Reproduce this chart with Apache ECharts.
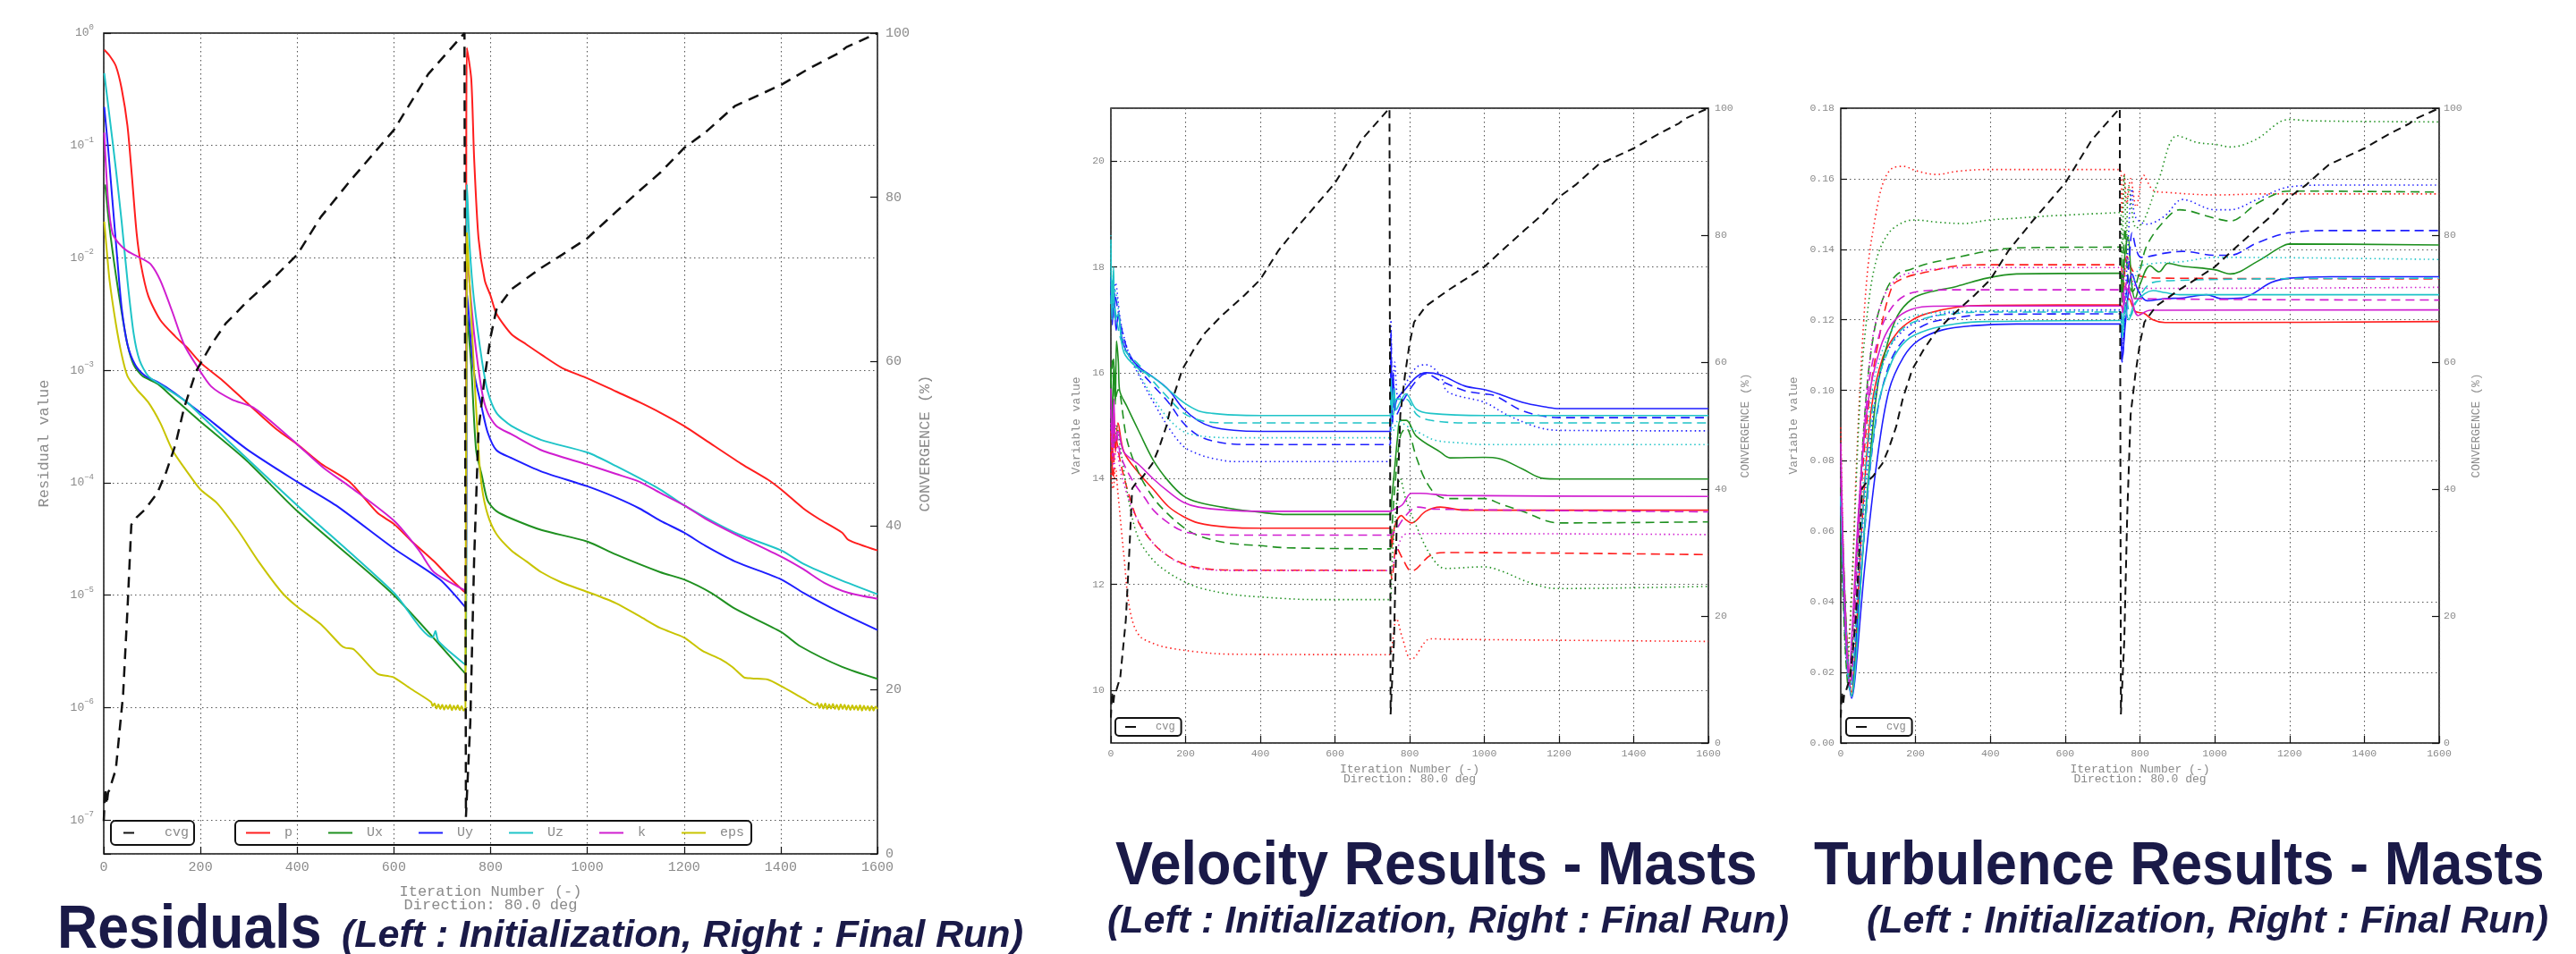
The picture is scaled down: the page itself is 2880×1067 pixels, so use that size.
<!DOCTYPE html>
<html>
<head>
<meta charset="utf-8">
<script src="https://cdn.jsdelivr.net/npm/echarts@6.0.0/dist/echarts.min.js"></script>
<style>
  html, body { margin: 0; padding: 0; background: #fff; }
  #main { width: 2880px; height: 1067px; }
</style>
</head>
<body>
<div id="main"></div>
<script>
// ---- shared: convergence (%) against iteration ----
const cvgData = [[0,4],[3,8],[6,6],[9,7.5],[12,7.8],[18,9],[25,10.3],[40,19.4],[49,29.7],[57,40.1],[68,41],[86,42],[111,44],[129,46.5],[148,49.8],[166,54.3],[191,58.8],[222,62],[252,64.6],[295,67.2],[357,70.5],[400,73],[449,77.6],[511,82.1],[600,88.2],[671,95],[746,100],[749,4.5],[752,4.5],[758,16],[766,36],[775,51.7],[788,58.2],[800,63],[812,66.3],[843,68.8],[905,71.4],[948,73],[1000,75],[1059,78.2],[1108,80.8],[1151,83],[1200,86],[1244,87.9],[1305,91.1],[1401,93.7],[1459,95.7],[1521,97.6],[1536,98.3],[1600,100]];

// ---- residuals ----
const pTarget = 5e-4;
const uTarget = 1e-5;
const resP = [[1,0.71],[12,0.63],[25,0.51],[37,0.32],[49,0.15],[58,0.055],[68,0.0166],[77,8.7e-3],[92,4.6e-3],[117,2.8e-3],[148,2.0e-3],[172,1.6e-3],[200,1.17e-3],[246,8.1e-4],[295,5.2e-4],[357,3.0e-4],[400,2.2e-4],[449,1.48e-4],[508,1.02e-4],[566,5.4e-5],[600,4.3e-5],[634,3.1e-5],[683,2.0e-5],[714,1.45e-5],[748,1.05e-5],[751,0.74],[760,0.39],[766,0.076],[775,0.015],[788,6.3e-3],[800,4.6e-3],[812,3.2e-3],[843,2.1e-3],[874,1.7e-3],[905,1.38e-3],[948,1.05e-3],[1000,8.5e-4],[1059,6.5e-4],[1108,5.2e-4],[1151,4.2e-4],[1200,3.2e-4],[1244,2.4e-4],[1318,1.48e-4],[1373,1.07e-4],[1401,8.7e-5],[1447,5.9e-5],[1478,4.8e-5],[1527,3.6e-5],[1540,3.1e-5],[1600,2.5e-5]];
const resUx = [[3,0.045],[12,0.0186],[25,7.1e-3],[37,3.3e-3],[49,1.7e-3],[62,1.12e-3],[80,8.9e-4],[111,7.6e-4],[142,5.8e-4],[200,3.5e-4],[295,1.58e-4],[400,5.6e-5],[600,1.0e-5],[748,2.0e-6],[751,3.2e-3],[760,1.1e-3],[770,1.95e-4],[782,1.15e-4],[794,6.9e-5],[812,5.6e-5],[843,4.8e-5],[905,3.8e-5],[1000,3.0e-5],[1059,2.3e-5],[1151,1.6e-5],[1200,1.38e-5],[1256,1.05e-5],[1305,7.6e-6],[1401,4.7e-6],[1441,3.5e-6],[1527,2.3e-6],[1600,1.8e-6]];
const resUy = [[1,0.22],[9,0.095],[18,0.032],[28,9.8e-3],[37,3.6e-3],[49,1.7e-3],[65,1.12e-3],[86,8.9e-4],[111,7.9e-4],[142,6.5e-4],[200,4.2e-4],[295,2.0e-4],[400,1.02e-4],[480,6.3e-5],[600,2.6e-5],[695,1.38e-5],[748,7.8e-6],[751,5.0e-3],[765,1.0e-3],[782,4.6e-4],[794,2.8e-4],[812,1.95e-4],[843,1.66e-4],[905,1.26e-4],[1000,9.3e-5],[1059,7.4e-5],[1108,5.9e-5],[1151,4.6e-5],[1200,3.6e-5],[1244,2.75e-5],[1305,2.0e-5],[1401,1.38e-5],[1447,1.05e-5],[1521,7.1e-6],[1600,4.9e-6]];
const resUz = [[1,0.44],[12,0.18],[25,0.062],[37,0.021],[49,6.3e-3],[62,2.1e-3],[74,1.23e-3],[92,8.9e-4],[123,7.2e-4],[172,5.2e-4],[200,4.0e-4],[295,1.66e-4],[400,6.3e-5],[600,1.05e-5],[680,4.2e-6],[686,4.8e-6],[692,3.9e-6],[748,2.4e-6],[751,0.045],[757,0.012],[766,4.1e-3],[782,1.23e-3],[794,6.5e-4],[812,4.2e-4],[843,3.2e-4],[905,2.4e-4],[1000,1.86e-4],[1059,1.41e-4],[1151,8.7e-5],[1200,6.3e-5],[1305,3.6e-5],[1401,2.5e-5],[1447,1.9e-5],[1521,1.38e-5],[1600,1.02e-5]];
const resK = [[1,0.13],[9,0.032],[18,0.0166],[31,0.0135],[49,0.0115],[80,9.8e-3],[98,8.7e-3],[117,6.3e-3],[142,3.3e-3],[166,1.7e-3],[191,1.12e-3],[222,7.2e-4],[265,5.5e-4],[308,4.7e-4],[357,3.2e-4],[400,2.2e-4],[455,1.35e-4],[511,9.1e-5],[600,4.6e-5],[652,2.5e-5],[683,1.6e-5],[748,1.1e-5],[751,0.0107],[766,2.1e-3],[782,6.5e-4],[794,4.2e-4],[812,3.2e-4],[843,2.7e-4],[905,1.95e-4],[1000,1.45e-4],[1059,1.2e-4],[1108,1.02e-4],[1151,8.1e-5],[1200,6.3e-5],[1244,4.8e-5],[1305,3.5e-5],[1401,2.2e-5],[1447,1.7e-5],[1490,1.29e-5],[1540,1.05e-5],[1600,9.3e-6]];
const resEps = [[1,0.021],[6,0.012],[12,6.3e-3],[25,2.6e-3],[37,1.38e-3],[49,8.9e-4],[68,6.8e-4],[92,5.2e-4],[117,3.4e-4],[142,1.95e-4],[172,1.26e-4],[200,8.7e-5],[234,6.6e-5],[277,3.8e-5],[320,2.0e-5],[369,1.05e-5],[400,7.9e-6],[449,5.5e-6],[490,3.6e-6],[500,3.4e-6],[517,3.3e-6],[566,2.0e-6],[590,1.9e-6],[600,1.86e-6],[634,1.48e-6],[677,1.12e-6],
  [680,1.03e-6],[684,1.09e-6],[688,0.98e-6],[692,1.07e-6],[696,0.97e-6],[700,1.06e-6],[704,0.96e-6],[708,1.05e-6],[712,0.97e-6],[716,1.06e-6],[720,0.95e-6],[724,1.04e-6],[728,0.96e-6],[732,1.05e-6],[736,0.95e-6],[740,1.03e-6],[744,0.94e-6],[748,1.0e-6],
  [751,0.0166],[763,1.7e-3],[775,1.95e-4],[782,9.1e-5],[794,5.2e-5],[812,3.5e-5],[843,2.5e-5],[874,2.0e-5],[905,1.6e-5],[948,1.29e-5],[1000,1.07e-5],[1059,8.5e-6],[1108,6.5e-6],[1151,5.1e-6],[1200,4.2e-6],[1238,3.2e-6],[1275,2.7e-6],[1300,2.3e-6],[1324,1.86e-6],[1340,1.82e-6],[1373,1.78e-6],[1401,1.55e-6],[1447,1.2e-6],[1472,1.05e-6],
  [1476,1.1e-6],[1480,0.99e-6],[1484,1.08e-6],[1488,0.98e-6],[1492,1.09e-6],[1496,0.97e-6],[1500,1.07e-6],[1504,0.98e-6],[1508,1.08e-6],[1512,0.97e-6],[1516,1.06e-6],[1520,0.96e-6],[1524,1.07e-6],[1528,0.97e-6],[1532,1.06e-6],[1536,0.96e-6],[1540,1.05e-6],[1544,0.95e-6],[1548,1.05e-6],[1552,0.96e-6],[1556,1.04e-6],[1560,0.95e-6],[1564,1.05e-6],[1568,0.94e-6],[1572,1.04e-6],[1576,0.95e-6],[1580,1.03e-6],[1584,0.94e-6],[1588,1.03e-6],[1592,0.94e-6],[1596,1.02e-6],[1600,0.97e-6]];

// ---- velocity results (masts) ----
const velBlueSolid = [[0,17.8],[4,16.9],[8,17.6],[14,16.8],[20,17.1],[28,16.7],[43,16.38],[75,16.11],[114,15.91],[154,15.68],[194,15.32],[234,15.09],[273,14.97],[329,14.91],[400,14.89],[748,14.89],[750,16.4],[753,15.2],[756,16.0],[760,15.3],[766,15.5],[785,15.66],[818,15.92],[844,16.0],[882,15.96],[947,15.75],[1000,15.68],[1038,15.6],[1102,15.44],[1166,15.35],[1200,15.32],[1600,15.32]];
const velBlueDash = [[0,17.5],[5,17.0],[10,17.5],[19,17.17],[43,16.46],[75,16.07],[114,15.75],[154,15.44],[194,15.05],[234,14.81],[273,14.71],[329,14.65],[400,14.64],[748,14.64],[750,16.8],[754,15.0],[758,15.8],[764,15.2],[785,15.5],[818,15.85],[844,15.98],[882,15.85],[947,15.66],[1000,15.6],[1030,15.56],[1102,15.28],[1166,15.17],[1200,15.15],[1600,15.15]];
const velBlueDot = [[0,17.6],[6,17.2],[12,17.7],[27,16.93],[51,16.3],[75,15.95],[114,15.44],[154,14.97],[194,14.61],[234,14.46],[273,14.38],[329,14.32],[400,14.32],[748,14.32],[750,17.0],[754,15.4],[760,16.2],[770,15.5],[790,15.8],[818,16.1],[844,16.15],[882,15.95],[902,15.64],[1000,15.44],[1062,15.2],[1142,14.97],[1200,14.91],[1600,14.9]];
const velCyanSolid = [[0,18.5],[3,17.0],[7,18.0],[11,17.0],[19,17.1],[35,16.38],[75,16.07],[114,15.91],[154,15.68],[194,15.44],[234,15.28],[273,15.23],[329,15.2],[400,15.19],[748,15.19],[750,15.9],[754,15.3],[758,15.7],[764,15.3],[775,15.45],[790,15.6],[818,15.31],[856,15.23],[1000,15.19],[1600,15.19]];
const velCyanDash = [[0,17.3],[5,17.8],[10,17.25],[35,16.46],[75,16.15],[114,15.83],[154,15.52],[194,15.24],[234,15.11],[273,15.06],[329,15.05],[748,15.05],[750,15.6],[756,15.2],[765,15.5],[790,15.5],[820,15.2],[856,15.1],[950,15.05],[1600,15.05]];
const velCyanDot = [[0,18.6],[4,17.2],[10,17.56],[35,16.54],[75,15.99],[114,15.52],[154,15.13],[194,14.89],[234,14.81],[273,14.78],[329,14.77],[748,14.77],[750,15.4],[756,14.9],[770,15.1],[790,15.0],[830,14.85],[870,14.72],[942,14.67],[1000,14.64],[1600,14.64]];
const velGreenSolid = [[0,16.1],[4,15.0],[8,16.2],[12,15.4],[15,16.6],[20,16.2],[23,15.68],[43,15.36],[75,14.89],[114,14.34],[154,13.95],[194,13.67],[234,13.55],[313,13.44],[400,13.36],[472,13.32],[748,13.32],[752,13.6],[760,14.2],[768,14.8],[775,15.1],[791,15.1],[818,14.8],[882,14.5],[908,14.39],[1000,14.4],[1038,14.38],[1102,14.18],[1158,14.0],[1200,13.99],[1600,13.99]];
const velGreenDash = [[0,15.8],[6,16.3],[12,15.5],[19,15.68],[43,14.73],[75,14.1],[114,13.63],[154,13.32],[194,13.08],[234,12.92],[313,12.78],[400,12.73],[472,12.69],[748,12.67],[752,13.0],[760,13.8],[775,14.8],[790,14.95],[818,14.4],[840,14.0],[870,13.7],[902,13.62],[1000,13.62],[1046,13.51],[1110,13.36],[1166,13.2],[1200,13.16],[1600,13.18]];
const velGreenDot = [[0,15.2],[8,14.6],[15,15.0],[27,14.5],[51,13.47],[75,12.85],[114,12.45],[154,12.22],[194,12.06],[234,11.94],[313,11.82],[400,11.76],[552,11.71],[748,11.71],[752,12.3],[762,13.3],[775,14.0],[790,13.6],[818,13.1],[856,12.55],[895,12.3],[1000,12.33],[1046,12.25],[1110,12.06],[1166,11.94],[1200,11.92],[1600,11.96]];
const velMagSolid = [[0,15.7],[4,14.6],[8,15.5],[12,14.7],[19,14.89],[35,14.5],[75,14.26],[114,13.99],[154,13.75],[194,13.55],[234,13.46],[313,13.4],[400,13.38],[748,13.38],[760,13.42],[780,13.5],[805,13.72],[830,13.72],[900,13.68],[1600,13.66]];
const velMagDash = [[0,15.3],[6,14.4],[12,15.0],[27,14.42],[59,13.95],[91,13.63],[114,13.4],[154,13.16],[194,13.0],[234,12.95],[313,12.93],[748,12.93],[760,13.0],[790,13.3],[820,13.46],[870,13.42],[1600,13.37]];
const velMagDot = [[0,15.05],[8,14.2],[15,14.6],[27,14.1],[59,13.4],[91,13.0],[114,12.77],[154,12.53],[194,12.37],[234,12.3],[313,12.26],[748,12.26],[760,12.5],[790,12.95],[850,12.96],[1600,12.94]];
const velRedSolid = [[0,14.9],[4,14.2],[8,15.3],[12,14.5],[19,15.05],[35,14.5],[75,14.1],[114,13.79],[154,13.47],[194,13.28],[234,13.16],[313,13.08],[400,13.06],[748,13.06],[752,12.7],[760,13.1],[778,13.3],[790,13.22],[805,13.16],[843,13.38],[882,13.46],[947,13.4],[1600,13.4]];
const velRedDash = [[0,14.5],[6,14.0],[12,14.8],[27,14.26],[51,13.63],[75,13.16],[114,12.77],[154,12.53],[194,12.39],[234,12.31],[313,12.27],[748,12.26],[752,12.1],[765,12.7],[780,12.5],[805,12.25],[856,12.55],[895,12.6],[1600,12.56]];
const velRedDot = [[0,14.1],[6,13.8],[12,14.2],[19,13.71],[35,12.53],[51,11.51],[75,11.04],[114,10.88],[154,10.8],[234,10.72],[313,10.68],[748,10.67],[752,10.8],[765,11.35],[780,11.0],[805,10.58],[856,10.97],[908,10.96],[1600,10.92]];

// ---- turbulence results (masts) ----
const turbRedSolid = [[0,0.07],[29,0.0144],[57,0.0626],[81,0.0942],[113,0.1095],[152,0.1165],[192,0.12],[232,0.1218],[311,0.1236],[390,0.1241],[748,0.1242],[756,0.123],[770,0.126],[787,0.1224],[811,0.1218],[835,0.12],[867,0.1192],[1000,0.1192],[1600,0.1195]];
const turbRedDash = [[0,0.07],[25,0.0155],[49,0.0626],[73,0.0942],[97,0.1118],[137,0.1294],[168,0.1318],[232,0.1336],[311,0.1353],[390,0.1356],[748,0.1356],[755,0.128],[765,0.138],[780,0.134],[800,0.1324],[867,0.1318],[1600,0.1316]];
const turbRedDot = [[0,0.0895],[10,0.0414],[17,0.026],[29,0.041],[41,0.0767],[57,0.1118],[73,0.1353],[93,0.1494],[113,0.1588],[137,0.1629],[168,0.1635],[200,0.1623],[256,0.1612],[311,0.1621],[390,0.1626],[748,0.1626],[752,0.15],[758,0.1615],[765,0.153],[775,0.16],[790,0.152],[810,0.161],[836,0.1567],[874,0.1561],[1004,0.1554],[1134,0.1557],[1600,0.1557]];
const turbGreenSolid = [[0,0.075],[29,0.0133],[49,0.0391],[73,0.0743],[97,0.1001],[121,0.1118],[152,0.1212],[192,0.126],[232,0.1277],[311,0.1295],[390,0.1318],[470,0.133],[748,0.1332],[752,0.125],[760,0.139],[768,0.1436],[778,0.13],[787,0.126],[800,0.13],[827,0.1353],[851,0.1336],[875,0.136],[914,0.1352],[1000,0.1342],[1041,0.133],[1113,0.1365],[1176,0.1406],[1200,0.1415],[1600,0.1412]];
const turbGreenDash = [[0,0.06],[21,0.0155],[41,0.0508],[65,0.0942],[89,0.1165],[121,0.1283],[152,0.133],[184,0.1342],[232,0.1359],[311,0.1377],[390,0.1394],[470,0.1404],[748,0.1406],[752,0.128],[760,0.146],[768,0.132],[780,0.128],[800,0.134],[819,0.1412],[867,0.1483],[906,0.1512],[1000,0.1488],[1041,0.148],[1113,0.153],[1176,0.1562],[1200,0.1565],[1600,0.1562]];
const turbGreenDot = [[0,0.065],[17,0.0214],[33,0.0532],[53,0.1002],[73,0.1236],[97,0.1377],[129,0.1447],[168,0.1477],[200,0.1483],[256,0.1477],[327,0.1473],[398,0.1483],[470,0.1488],[549,0.1494],[748,0.1504],[752,0.138],[758,0.161],[764,0.142],[770,0.158],[790,0.146],[810,0.148],[849,0.1593],[900,0.1722],[952,0.1703],[1004,0.1697],[1043,0.169],[1108,0.171],[1198,0.1768],[1263,0.1764],[1600,0.1761]];
const turbBlueSolid = [[0,0.07],[29,0.0127],[65,0.0508],[97,0.0801],[129,0.1],[168,0.1095],[208,0.1142],[271,0.1171],[351,0.1183],[470,0.1188],[748,0.1188],[752,0.1083],[762,0.12],[779,0.133],[795,0.1283],[819,0.1254],[867,0.126],[914,0.1262],[978,0.1271],[1017,0.126],[1073,0.1262],[1152,0.1306],[1200,0.1318],[1311,0.1322],[1600,0.1322]];
const turbBlueDash = [[0,0.07],[25,0.015],[61,0.057],[93,0.0907],[129,0.1071],[168,0.1142],[232,0.1189],[311,0.1206],[390,0.1215],[748,0.1217],[752,0.108],[762,0.125],[772,0.138],[779,0.1447],[790,0.14],[803,0.1377],[867,0.1389],[914,0.1394],[1000,0.1383],[1041,0.1383],[1113,0.1418],[1200,0.1447],[1311,0.1453],[1600,0.1453]];
const turbBlueDot = [[0,0.07],[25,0.0155],[57,0.06],[89,0.095],[121,0.11],[168,0.117],[232,0.1205],[311,0.1222],[748,0.1228],[752,0.112],[765,0.135],[779,0.1571],[787,0.1494],[819,0.1471],[866,0.1494],[914,0.1541],[1000,0.1512],[1041,0.1512],[1113,0.1541],[1200,0.1577],[1311,0.1582],[1600,0.1582]];
const turbCyanSolid = [[0,0.07],[29,0.0133],[65,0.0626],[97,0.0942],[137,0.1083],[176,0.1142],[232,0.1171],[311,0.1189],[390,0.1195],[748,0.1198],[753,0.115],[760,0.124],[770,0.12],[787,0.1248],[835,0.1283],[867,0.1277],[906,0.1271],[1600,0.1271]];
const turbCyanDash = [[0,0.07],[25,0.015],[57,0.0626],[89,0.0978],[129,0.1118],[168,0.1177],[232,0.1206],[311,0.1218],[390,0.1222],[748,0.1222],[754,0.117],[762,0.127],[775,0.121],[790,0.125],[835,0.1306],[914,0.1312],[1113,0.1316],[1600,0.1318]];
const turbCyanDot = [[0,0.07],[25,0.0155],[53,0.0626],[81,0.0978],[113,0.1118],[152,0.1189],[200,0.1212],[271,0.1222],[311,0.1224],[748,0.1224],[755,0.118],[765,0.128],[780,0.13],[800,0.135],[830,0.1359],[914,0.1365],[1000,0.1377],[1600,0.1371]];
const turbMagSolid = [[0,0.085],[21,0.0203],[49,0.068],[73,0.0966],[105,0.1118],[137,0.1189],[176,0.1224],[232,0.1238],[311,0.1239],[748,0.1239],[754,0.122],[760,0.1295],[775,0.127],[795,0.1212],[827,0.1227],[1600,0.1228]];
const turbMagDash = [[0,0.075],[25,0.016],[49,0.0626],[73,0.1001],[105,0.1165],[137,0.1236],[176,0.1271],[232,0.1283],[311,0.1285],[748,0.1285],[756,0.124],[766,0.131],[787,0.126],[1600,0.1256]];
const turbMagDot = [[0,0.08],[25,0.0167],[49,0.068],[81,0.1118],[113,0.126],[152,0.1318],[200,0.1336],[256,0.1344],[327,0.1348],[748,0.1348],[755,0.131],[765,0.138],[780,0.131],[800,0.1289],[1600,0.1292]];

const residualNames = ['p', 'Ux', 'Uy', 'Uz', 'k', 'eps'];

// ---- styles ----
const MONO = '"Liberation Mono", "DejaVu Sans Mono", monospace';
const GRAY = '#8a8a8a';
const GRID = '#555';
const NAVY = '#1a1a48';
const RED = '#ff1e1e', GREEN = '#1f9020', BLUE = '#1e1eff', CYAN = '#1fc4c8', MAG = '#d01ed0', YEL = '#c8c400';
const DASH = [10, 6], DOT = [1.5, 3.5];

const chart = echarts.init(document.getElementById('main'));

function line(name, data, gi, yi, color, type, width, smooth) {
    return {
        name: name, type: 'line', xAxisIndex: gi, yAxisIndex: yi, data: data,
        symbol: 'none', silent: true, animation: false,
        smooth: smooth || false,
        lineStyle: { color: color, width: width, type: type },
        itemStyle: { color: color },
        emphasis: { disabled: true }
    };
}

function xAxisFor(gi, fs, margin, nameFs, nameGap) {
    return {
        gridIndex: gi, type: 'value', min: 0, max: 1600, interval: 200,
        name: 'Iteration Number (-)\nDirection: 80.0 deg', nameLocation: 'middle', nameGap: nameGap,
        nameTextStyle: { color: GRAY, fontFamily: MONO, fontSize: nameFs, lineHeight: nameFs - 2 },
        axisLine: { show: false },
        axisTick: { inside: true, length: 8, lineStyle: { color: '#111', width: 1.2 } },
        axisLabel: { color: GRAY, fontFamily: MONO, fontSize: fs, margin: margin,
            formatter: function (v) { return String(v); } },
        splitLine: { show: true, lineStyle: { color: GRID, width: 1.1, type: [1.5, 3.5] } }
    };
}

function convAxis(gi, fs, margin, nameFs, nameGap) {
    return {
        gridIndex: gi, type: 'value', position: 'right', min: 0, max: 100, interval: 20,
        name: 'CONVERGENCE (%)', nameLocation: 'middle', nameGap: nameGap, nameRotate: 90,
        nameTextStyle: { color: GRAY, fontFamily: MONO, fontSize: nameFs },
        axisLine: { show: false },
        axisTick: { inside: true, length: 8, lineStyle: { color: '#111', width: 1.2 } },
        axisLabel: { color: GRAY, fontFamily: MONO, fontSize: fs, margin: margin,
            formatter: function (v) { return String(v); } },
        splitLine: { show: false }
    };
}

const gridBase = { show: true, borderColor: '#111', borderWidth: 1.5, backgroundColor: 'transparent', outerBoundsMode: 'none', containLabel: false };

const series = [];
// residuals (grid 0)
const resData = [resP, resUx, resUy, resUz, resK, resEps];
const resColors = [RED, GREEN, BLUE, CYAN, MAG, YEL];
resData.forEach(function (d, i) {
    series.push(line(residualNames[i], d, 0, 0, resColors[i], 'solid', 2, 0.25));
});
series[0].markLine = { symbol: ['none', 'none'], silent: true, label: { show: false }, animation: false,
    lineStyle: { color: RED, width: 2, type: [14, 8] }, data: [{ yAxis: pTarget }] };
series[2].markLine = { symbol: ['none', 'none'], silent: true, label: { show: false }, animation: false,
    lineStyle: { color: BLUE, width: 2, type: [12, 5, 2, 5] }, data: [{ yAxis: uTarget }] };
series.push(line('cvg', cvgData, 0, 1, '#111', [12, 8], 2.5));

// velocity (grid 1) and turbulence (grid 2)
const velSets = [
    [velRedSolid, RED, 'solid'], [velRedDash, RED, DASH], [velRedDot, RED, DOT],
    [velGreenSolid, GREEN, 'solid'], [velGreenDash, GREEN, DASH], [velGreenDot, GREEN, DOT],
    [velBlueSolid, BLUE, 'solid'], [velBlueDash, BLUE, DASH], [velBlueDot, BLUE, DOT],
    [velCyanSolid, CYAN, 'solid'], [velCyanDash, CYAN, DASH], [velCyanDot, CYAN, DOT],
    [velMagSolid, MAG, 'solid'], [velMagDash, MAG, DASH], [velMagDot, MAG, DOT]
];
const turbSets = [
    [turbRedSolid, RED, 'solid'], [turbRedDash, RED, DASH], [turbRedDot, RED, DOT],
    [turbGreenSolid, GREEN, 'solid'], [turbGreenDash, GREEN, DASH], [turbGreenDot, GREEN, DOT],
    [turbBlueSolid, BLUE, 'solid'], [turbBlueDash, BLUE, DASH], [turbBlueDot, BLUE, DOT],
    [turbCyanSolid, CYAN, 'solid'], [turbCyanDash, CYAN, DASH], [turbCyanDot, CYAN, DOT],
    [turbMagSolid, MAG, 'solid'], [turbMagDash, MAG, DASH], [turbMagDot, MAG, DOT]
];
velSets.forEach(function (s, i) { series.push(line('vel' + i, s[0], 1, 2, s[1], s[2], 1.6, 0.35)); });
series.push(line('cvg', cvgData, 1, 3, '#111', [9, 6], 2));
turbSets.forEach(function (s, i) { series.push(line('turb' + i, s[0], 2, 4, s[1], s[2], 1.6, 0.35)); });
series.push(line('cvg', cvgData, 2, 5, '#111', [9, 6], 2));

const legendText = { color: GRAY, fontFamily: MONO };
const hiddenSymbol = { color: 'rgba(0,0,0,0)', borderColor: 'rgba(0,0,0,0)', borderWidth: 0 };

const option = {
    backgroundColor: '#fff',
    animation: false,
    grid: [
        Object.assign({ left: 116, top: 37, width: 865, height: 918 }, gridBase),
        Object.assign({ left: 1242, top: 121, width: 668, height: 710 }, gridBase),
        Object.assign({ left: 2058, top: 121, width: 669, height: 710 }, gridBase)
    ],
    xAxis: [
        xAxisFor(0, 15, 8, 17, 35),
        xAxisFor(1, 11.5, 6, 13, 21),
        xAxisFor(2, 11.5, 6, 13, 21)
    ],
    yAxis: [
        {
            gridIndex: 0, type: 'log', logBase: 10, min: 5e-8, max: 1, splitNumber: 7,
            name: 'Residual value', nameLocation: 'middle', nameGap: 58,
            nameTextStyle: { color: GRAY, fontFamily: MONO, fontSize: 17 },
            axisLine: { show: false },
            axisTick: { inside: true, length: 8, lineStyle: { color: '#111', width: 1.2 } },
            axisLabel: {
                margin: 11,
                formatter: function (v) {
                    const e = Math.log10(v);
                    const r = Math.round(e);
                    if (Math.abs(e - r) > 1e-6) return '';
                    return '{b|10}{s|' + (r === 0 ? '0' : '\u2212' + (-r)) + '}';
                },
                rich: {
                    b: { color: GRAY, fontFamily: MONO, fontSize: 13, lineHeight: 22 },
                    s: { color: GRAY, fontFamily: MONO, fontSize: 9, verticalAlign: 'top' }
                }
            },
            splitLine: { show: true, lineStyle: { color: GRID, width: 1.1, type: [1.5, 3.5] } }
        },
        convAxis(0, 15, 9, 17, 45),
        {
            gridIndex: 1, type: 'value', min: 9, max: 21, splitNumber: 6,
            name: 'Variable value', nameLocation: 'middle', nameGap: 32,
            nameTextStyle: { color: GRAY, fontFamily: MONO, fontSize: 13 },
            axisLine: { show: false },
            axisTick: { inside: true, length: 7, lineStyle: { color: '#111', width: 1.2 } },
            axisLabel: { color: GRAY, fontFamily: MONO, fontSize: 11.5, margin: 7, showMinLabel: false, showMaxLabel: false,
                formatter: function (v) { return (v % 2 === 0) ? String(v) : ''; } },
            splitLine: { show: true, lineStyle: { color: GRID, width: 1.1, type: [1.5, 3.5] } }
        },
        convAxis(1, 11.5, 7, 13, 35),
        {
            gridIndex: 2, type: 'value', min: 0, max: 0.18, interval: 0.02,
            name: 'Variable value', nameLocation: 'middle', nameGap: 46,
            nameTextStyle: { color: GRAY, fontFamily: MONO, fontSize: 13 },
            axisLine: { show: false },
            axisTick: { inside: true, length: 7, lineStyle: { color: '#111', width: 1.2 } },
            axisLabel: { color: GRAY, fontFamily: MONO, fontSize: 11.5, margin: 7,
                formatter: function (v) { return v.toFixed(2); } },
            splitLine: { show: true, lineStyle: { color: GRID, width: 1.1, type: [1.5, 3.5] } }
        },
        convAxis(2, 11.5, 5, 13, 35)
    ],
    legend: [
        {
            data: ['cvg'], left: 124, top: 918, selectedMode: false,
            padding: [6, 6, 6, 13], borderColor: '#111', borderWidth: 2, borderRadius: 5,
            itemWidth: 16, itemHeight: 14, itemStyle: hiddenSymbol,
            textStyle: Object.assign({ fontSize: 15, padding: [0, 0, 0, 25] }, legendText)
        },
        {
            data: residualNames, left: 263, top: 918, selectedMode: false, itemGap: 39,
            padding: [6, 8, 6, 11], borderColor: '#111', borderWidth: 2, borderRadius: 5,
            itemWidth: 27, itemHeight: 14, itemStyle: hiddenSymbol,
            textStyle: Object.assign({ fontSize: 15, padding: [0, 0, 0, 11] }, legendText)
        },
        {
            data: ['cvg'], left: 1247, top: 803, selectedMode: false,
            padding: [4, 7, 4, 10], borderColor: '#111', borderWidth: 2, borderRadius: 4,
            itemWidth: 12, itemHeight: 12, itemStyle: hiddenSymbol,
            textStyle: Object.assign({ fontSize: 12, padding: [0, 0, 0, 17] }, legendText)
        },
        {
            data: ['cvg'], left: 2064, top: 803, selectedMode: false,
            padding: [4, 7, 4, 10], borderColor: '#111', borderWidth: 2, borderRadius: 4,
            itemWidth: 12, itemHeight: 12, itemStyle: hiddenSymbol,
            textStyle: Object.assign({ fontSize: 12, padding: [0, 0, 0, 17] }, legendText)
        }
    ],
    graphic: [
        { type: 'text', x: 64, y: 1041, scaleX: 0.92, silent: true,
          style: { text: 'Residuals', font: 'bold 68px "Liberation Sans", Arial, sans-serif', fill: NAVY, verticalAlign: 'middle' } },
        { type: 'text', x: 382, y: 1047, silent: true,
          style: { text: '(Left : Initialization, Right : Final Run)', font: 'italic bold 43px "Liberation Sans", Arial, sans-serif', fill: NAVY, verticalAlign: 'middle' } },
        { type: 'text', x: 1247, y: 970, scaleX: 0.926, silent: true,
          style: { text: 'Velocity Results - Masts', font: 'bold 68px "Liberation Sans", Arial, sans-serif', fill: NAVY, verticalAlign: 'middle' } },
        { type: 'text', x: 1238, y: 1031, silent: true,
          style: { text: '(Left : Initialization, Right : Final Run)', font: 'italic bold 43px "Liberation Sans", Arial, sans-serif', fill: NAVY, verticalAlign: 'middle' } },
        { type: 'text', x: 2028, y: 970, scaleX: 0.929, silent: true,
          style: { text: 'Turbulence Results - Masts', font: 'bold 68px "Liberation Sans", Arial, sans-serif', fill: NAVY, verticalAlign: 'middle' } },
        { type: 'text', x: 2087, y: 1031, silent: true,
          style: { text: '(Left : Initialization, Right : Final Run)', font: 'italic bold 43px "Liberation Sans", Arial, sans-serif', fill: NAVY, verticalAlign: 'middle' } }
    ],
    series: series
};

chart.setOption(option);
</script>
</body>
</html>
